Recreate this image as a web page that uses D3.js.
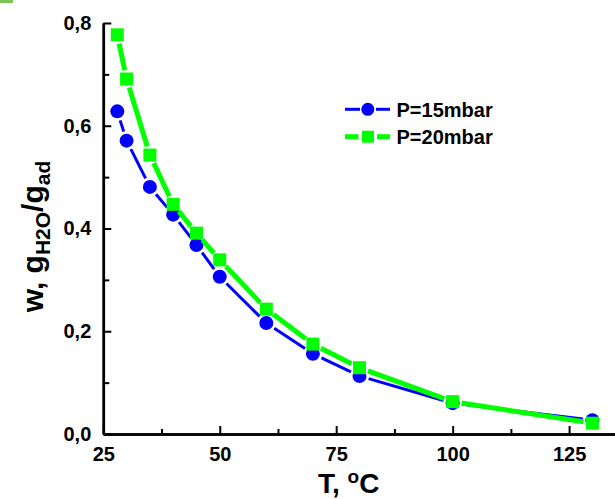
<!DOCTYPE html>
<html>
<head>
	<meta charset="utf-8">
	<script src="https://d3js.org/d3.v7.min.js"></script>
	<title>w vs T</title>
	<style>
		body { margin: 0; background: #fff; }
		text { font-family: "Liberation Sans", Arial, sans-serif; font-weight: bold; }
	</style>
</head>
<body>
	<div id="chart"></div>

	<script type="text/javascript">

		// data
		var temps = [28, 30, 35, 40, 45, 50, 60, 70, 80, 100, 130];
		var w15 = [0.628, 0.571, 0.481, 0.427, 0.368, 0.306, 0.216, 0.156, 0.113, 0.060, 0.027];
		var w20 = [0.777, 0.691, 0.543, 0.447, 0.391, 0.339, 0.243, 0.175, 0.129, 0.063, 0.021];
		var seriesNames = ["P=15mbar", "P=20mbar"];
		var xTicks = [25, 50, 75, 100, 125];
		var yTicks = [0, 0.2, 0.4, 0.6, 0.8];

		var svgwidth = 615;
		var svgheight = 499;

		var svg = d3.select("#chart").append("svg")
			.attr("width", svgwidth)
			.attr("height", svgheight);

		var xScale = d3.scaleLinear()
			.domain([25, 135])
			.range([103.3, 103.3 + 110 * 4.658]);

		var yScale = d3.scaleLinear()
			.domain([0, 0.8])
			.range([434, 23]);

		// little green tab in the corner of the scan
		svg.append("rect")
			.attr("x", 0).attr("y", 0)
			.attr("width", 13).attr("height", 3)
			.attr("fill", "#7cc35a");

		// minor ticks first
		var xMinor = d3.axisBottom(xScale)
			.tickValues([37.5, 62.5, 87.5, 112.5])
			.tickSize(-5).tickSizeOuter(0).tickFormat("");
		var yMinor = d3.axisLeft(yScale)
			.tickValues([0.1, 0.3, 0.5, 0.7])
			.tickSize(-6).tickSizeOuter(0).tickFormat("");

		svg.append("g").attr("transform", "translate(0,434)").call(xMinor);
		svg.append("g").attr("transform", "translate(103.3,0)").call(yMinor);

		var xAxis = d3.axisBottom(xScale)
			.tickValues(xTicks)
			.tickSize(-8).tickSizeOuter(0).tickPadding(13)
			.tickFormat(d3.format("d"));
		var yAxis = d3.axisLeft(yScale)
			.tickValues(yTicks)
			.tickSize(-8).tickSizeOuter(0).tickPadding(12)
			.tickFormat(function(d){ return d3.format(".1f")(d).replace(".", ","); });

		svg.append("g").attr("class", "xAxis")
			.attr("transform", "translate(0,434)").call(xAxis);
		svg.append("g").attr("class", "yAxis")
			.attr("transform", "translate(103.3,0)").call(yAxis);

		svg.selectAll(".tick line").attr("stroke", "#000").attr("stroke-width", 2);
		svg.selectAll(".domain").attr("stroke", "#000").attr("stroke-width", 2.5);
		svg.selectAll(".tick text")
			.attr("fill", "#000")
			.attr("font-size", 20)
			.attr("font-family", "'Liberation Sans', Arial, sans-serif")
			.attr("font-weight", "bold");

		// axis titles
		var xt = svg.append("text")
			.attr("x", 348.7).attr("y", 493)
			.attr("text-anchor", "middle")
			.attr("font-size", 28);
		xt.append("tspan").text("T, ");
		xt.append("tspan").attr("font-size", 19).attr("dy", -10).text("o");
		xt.append("tspan").attr("dy", 10).text("C");

		var yt = svg.append("text")
			.attr("transform", "translate(43,236.5) rotate(-90)")
			.attr("text-anchor", "middle")
			.attr("font-size", 30);
		yt.append("tspan").text("w, g");
		yt.append("tspan").attr("font-size", 21).attr("dy", 7).text("H2O");
		yt.append("tspan").attr("dy", -7).text("/g");
		yt.append("tspan").attr("font-size", 21).attr("dy", 7).text("ad");

		// line drawn in pieces with a small gap around each symbol
		function drawSegments(g, pts, gap, color, width){
			for (var i = 0; i < pts.length - 1; i++){
				var x1 = pts[i][0], y1 = pts[i][1];
				var x2 = pts[i+1][0], y2 = pts[i+1][1];
				var dx = x2 - x1, dy = y2 - y1;
				var len = Math.sqrt(dx*dx + dy*dy);
				if (len <= 2 * gap) continue;
				var ux = dx / len, uy = dy / len;
				g.append("line")
					.attr("x1", x1 + ux*gap).attr("y1", y1 + uy*gap)
					.attr("x2", x2 - ux*gap).attr("y2", y2 - uy*gap)
					.attr("stroke", color)
					.attr("stroke-width", width);
			}
		}

		var blue = "#0000ff";
		var green = "#00ff00";

		var pts15 = temps.map(function(t, i){ return [xScale(t), yScale(w15[i])]; });
		var pts20 = temps.map(function(t, i){ return [xScale(t), yScale(w20[i])]; });

		var g15 = svg.append("g");
		drawSegments(g15, pts15, 9.5, blue, 3);
		g15.selectAll("circle")
			.data(pts15).enter().append("circle")
			.attr("cx", function(d){ return d[0]; })
			.attr("cy", function(d){ return d[1]; })
			.attr("r", 7)
			.attr("fill", blue);

		var g20 = svg.append("g");
		drawSegments(g20, pts20, 9, green, 5);
		g20.selectAll("rect")
			.data(pts20).enter().append("rect")
			.attr("x", function(d){ return d[0] - 6.5; })
			.attr("y", function(d){ return d[1] - 6.5; })
			.attr("width", 13)
			.attr("height", 13)
			.attr("fill", green);

		// legend
		var legend = svg.append("g");
		var ly = [109.3, 136.7];

		legend.append("line").attr("x1", 345).attr("x2", 360)
			.attr("y1", ly[0]).attr("y2", ly[0])
			.attr("stroke", blue).attr("stroke-width", 3);
		legend.append("line").attr("x1", 376).attr("x2", 390)
			.attr("y1", ly[0]).attr("y2", ly[0])
			.attr("stroke", blue).attr("stroke-width", 3);
		legend.append("circle").attr("cx", 367.8).attr("cy", ly[0])
			.attr("r", 6.5).attr("fill", blue);

		legend.append("line").attr("x1", 345).attr("x2", 358.5)
			.attr("y1", ly[1]).attr("y2", ly[1])
			.attr("stroke", green).attr("stroke-width", 5);
		legend.append("line").attr("x1", 377).attr("x2", 390)
			.attr("y1", ly[1]).attr("y2", ly[1])
			.attr("stroke", green).attr("stroke-width", 5);
		legend.append("rect").attr("x", 362).attr("y", ly[1] - 6)
			.attr("width", 12).attr("height", 12).attr("fill", green);

		legend.selectAll("text")
			.data(seriesNames).enter().append("text")
			.attr("x", 396.5)
			.attr("y", function(d, i){ return ly[i] + 7.3; })
			.attr("font-size", 20)
			.text(function(d){ return d; });

	</script>
</body>
</html>
